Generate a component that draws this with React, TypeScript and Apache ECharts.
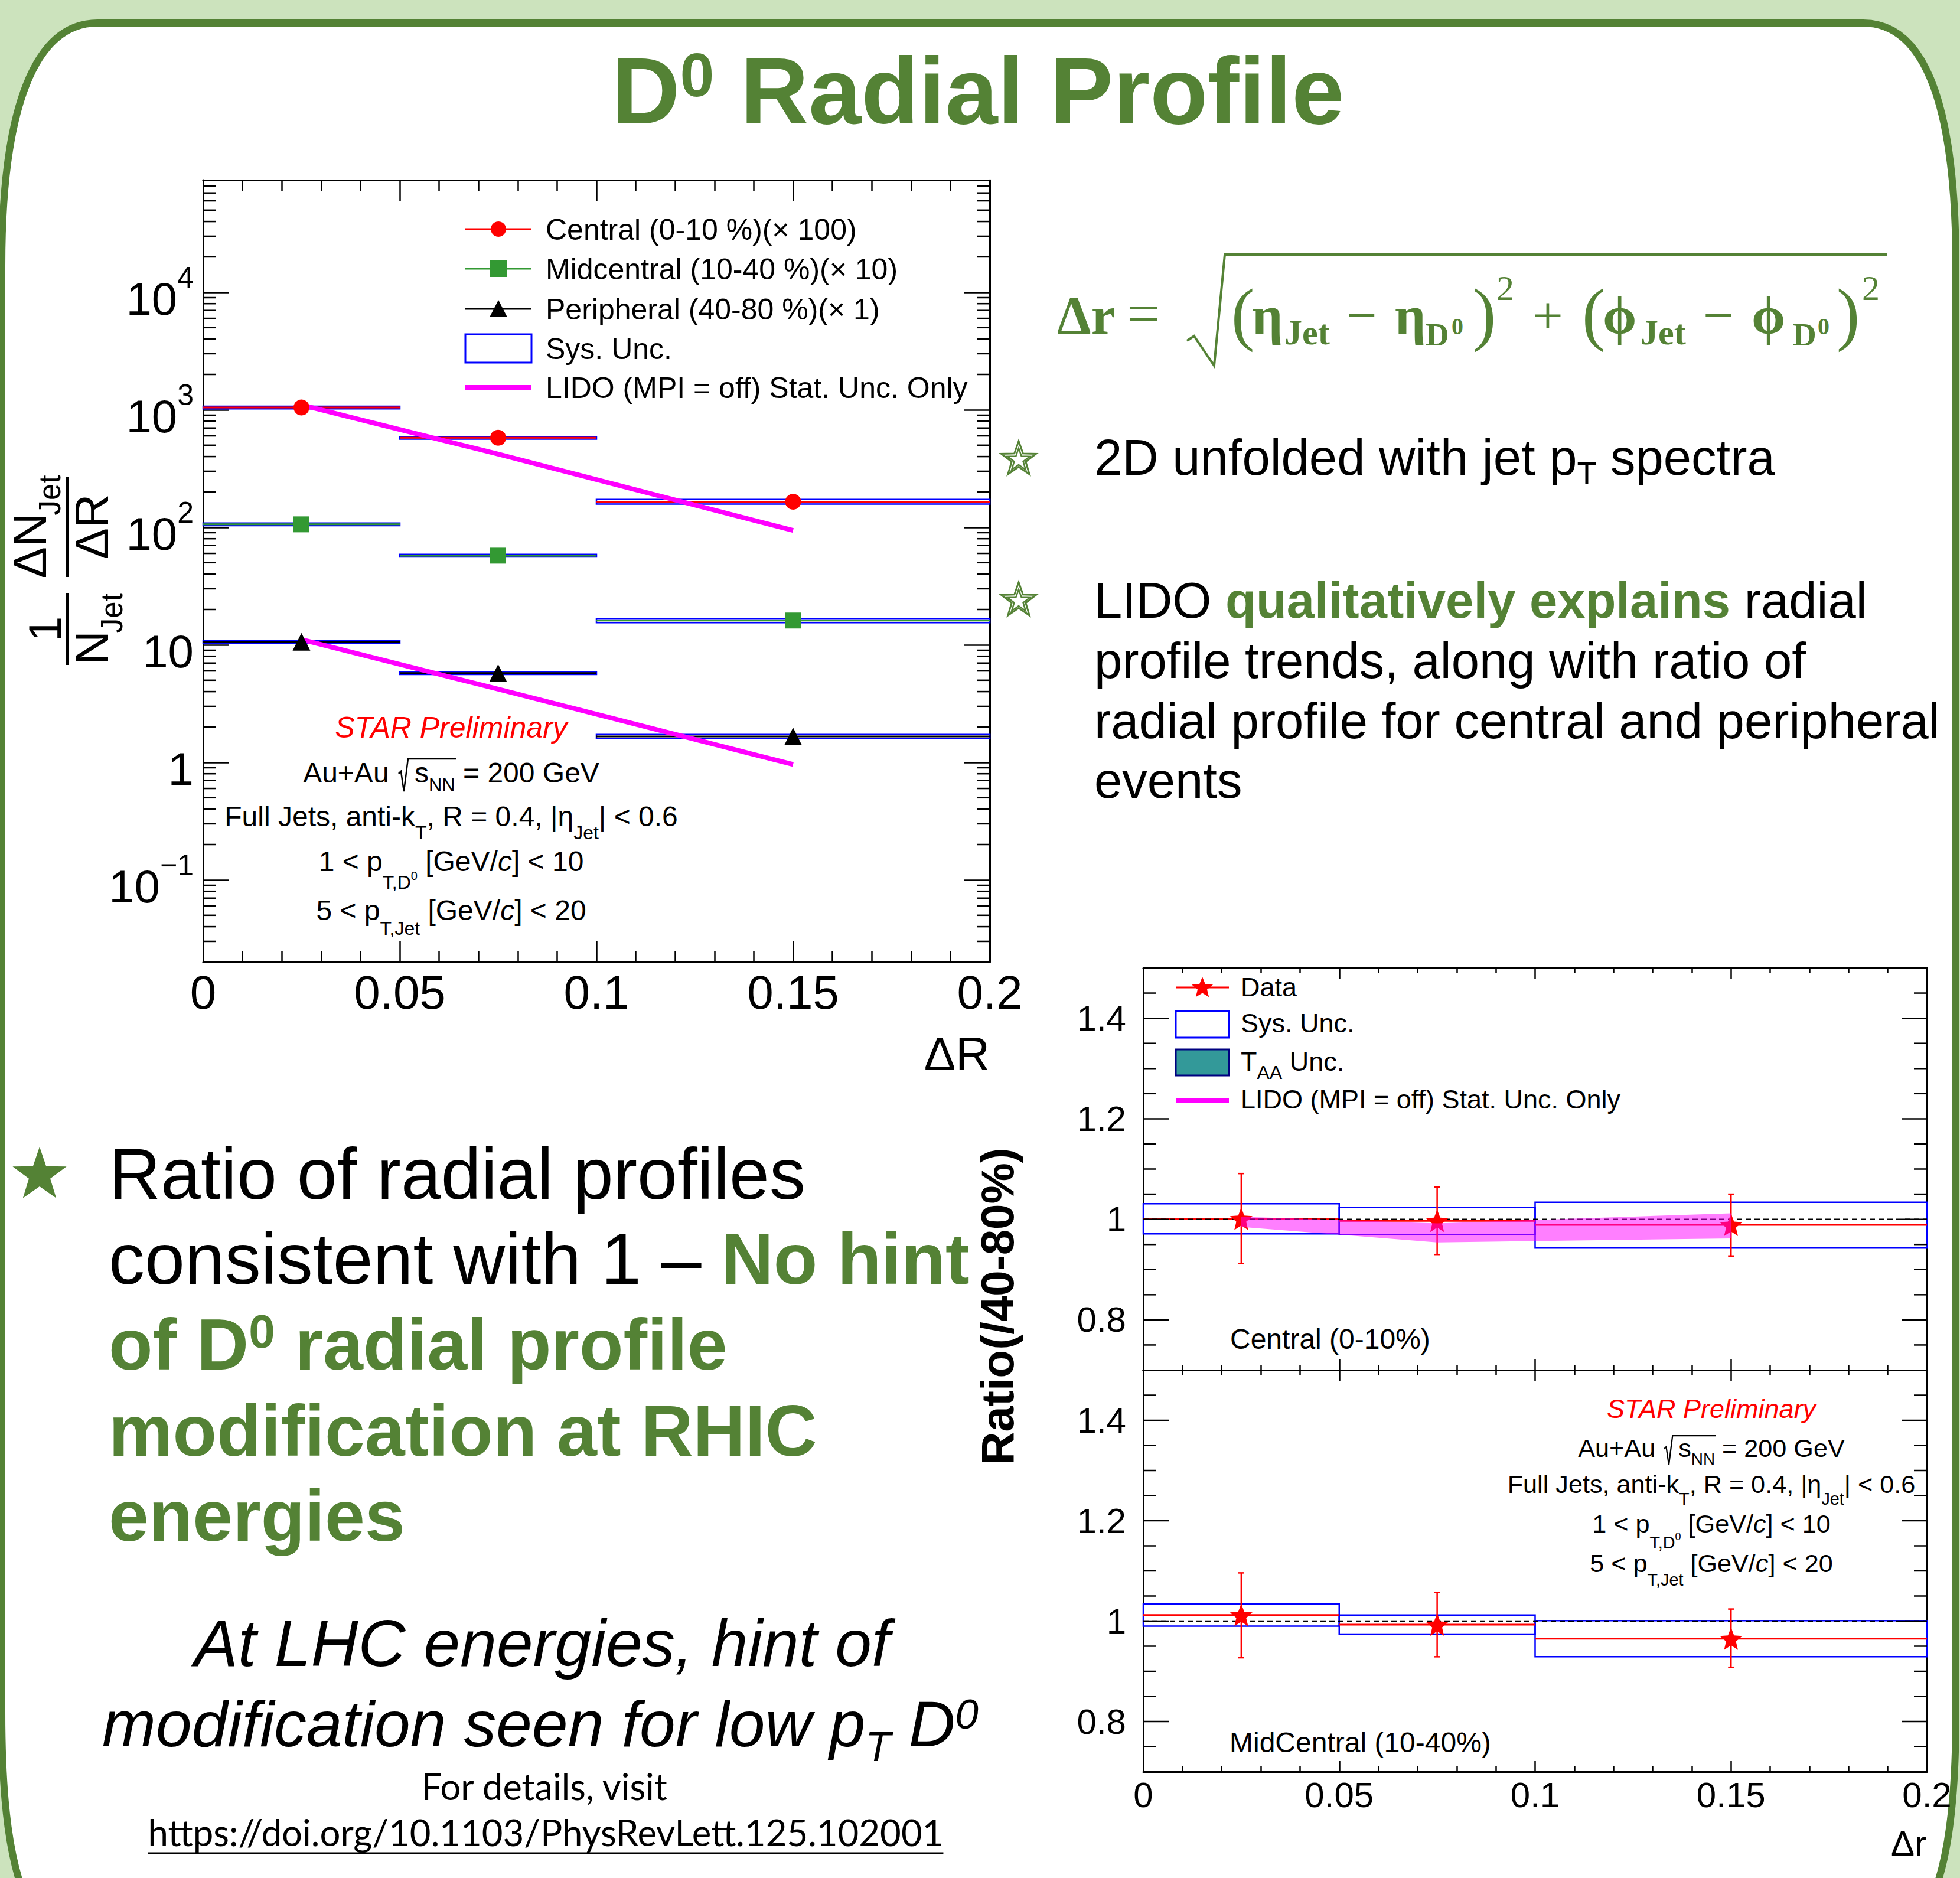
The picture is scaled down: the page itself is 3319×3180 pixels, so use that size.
import React, { useEffect, useRef } from 'react';
import * as echarts from 'echarts';

const W = 3319;
const H = 3180;
const SANS = "'Liberation Sans', Arial, Helvetica, sans-serif";
const SERIF = "'Liberation Serif', 'DejaVu Serif', 'Times New Roman', serif";
const CAL = "Lato, 'Open Sans', sans-serif";
const GREEN = '#548235';
const BG = '#cce3bd';
const RED = '#ff0000';
const BLUE = '#0000ff';
const MAG = '#ff00ff';
const MIDGREEN = '#339933';

// ---------------- data ----------------
const binLo = [0, 0.05, 0.1];
const binHi = [0.05, 0.1, 0.2];
const binCenter = [0.025, 0.075, 0.15];

const centralVals = [1045, 578, 165];
const midVals = [106, 57.4, 16.1];
const periVals = [10.6, 5.75, 1.66];
const centralSys = [0.025, 0.025, 0.045];
const midSys = [0.025, 0.025, 0.04];
const periSys = [0.025, 0.025, 0.04];

const lidoX = [0.025, 0.075, 0.15];
const lidoCentral = [1100, 420, 94];
const lidoPeri = [11.1, 4.2, 0.96];

const ratioCentral = [1.001, 0.997, 0.989];
const ratioCentralStatLo = [0.912, 0.93, 0.927];
const ratioCentralStatHi = [1.091, 1.064, 1.05];
const ratioCentralSysLo = [0.971, 0.97, 0.943];
const ratioCentralSysHi = [1.031, 1.024, 1.034];
const lidoRatioLo = [0.985, 0.954, 0.962];
const lidoRatioHi = [1.005, 0.992, 1.012];

const ratioMid = [1.012, 0.993, 0.965];
const ratioMidStatLo = [0.927, 0.929, 0.908];
const ratioMidStatHi = [1.096, 1.057, 1.024];
const ratioMidSysLo = [0.99, 0.974, 0.929];
const ratioMidSysHi = [1.034, 1.012, 1.001];

const unityLine = [[0, 1], [0.2, 1]];

const xTickLabels = ['0', '0.05', '0.1', '0.15', '0.2'];
const mainYDecades = [-1, 0, 1, 2, 3, 4];
const ratioYLabels = [0.8, 1, 1.2, 1.4];
const ratioMajorTicks = [0.8, 1.0, 1.2, 1.4];
const ratioMinorTicks = [0.75, 0.85, 0.9, 0.95, 1.05, 1.1, 1.15, 1.25, 1.3, 1.35, 1.45];
const logMinorTicks: number[] = [];
for (let k = -2; k <= 4; k++) {
  for (let m = 2; m <= 9; m++) {
    const v = m * Math.pow(10, k);
    if (v > 0.0201 && v < 89000) logMinorTicks.push(v);
  }
}

// ---------------- text helpers ----------------
type P = { t: string; fs: number; dy?: number; it?: boolean; b?: boolean; c?: string; ff?: string; pre?: number; nb?: boolean };

let mctx: CanvasRenderingContext2D | null = null;
function fontOf(p: P) {
  return `${p.it ? 'italic ' : ''}${p.b ? 'bold ' : ''}${p.fs}px ${p.ff || SANS}`;
}
function mw(p: P, t?: string) {
  if (!mctx) mctx = document.createElement('canvas').getContext('2d');
  mctx!.font = fontOf(p);
  return mctx!.measureText(t ?? p.t).width;
}
function cen(ff?: string) {
  if (ff === CAL) return 0.387;
  if (ff === SERIF) return 0.3375;
  return 0.3465;
}
function textEl(x: number, base: number, p: P, color: string, z = 50): any {
  const ff = p.ff || SANS;
  return {
    type: 'text',
    x,
    y: base + (p.dy || 0) - cen(ff) * p.fs,
    z,
    silent: true,
    style: {
      text: p.t,
      fill: p.c || color,
      fontSize: p.fs,
      fontFamily: ff,
      fontWeight: p.b ? 'bold' : 'normal',
      fontStyle: p.it ? 'italic' : 'normal',
      align: 'left',
      verticalAlign: 'middle',
      textAlign: 'left',
      textVerticalAlign: 'middle',
    },
  };
}
function lay(ps: P[], x: number, base: number, align: string, color: string, targetW?: number) {
  let pieces = ps.map((p) => ({ ...p }));
  let ws = pieces.map((p) => mw(p));
  let total = ws.reduce((a, b) => a + b, 0) + pieces.reduce((a, p) => a + (p.pre || 0), 0);
  if (targetW) {
    const k = targetW / total;
    pieces = pieces.map((p) => ({ ...p, fs: p.fs * k, dy: (p.dy || 0) * k, pre: (p.pre || 0) * k }));
    ws = pieces.map((p) => mw(p));
    total = ws.reduce((a, b) => a + b, 0) + pieces.reduce((a, p) => a + (p.pre || 0), 0);
  }
  let cx = align === 'left' ? x : align === 'center' ? x - total / 2 : x - total;
  const x0 = cx;
  const els: any[] = [];
  const xs: number[] = [];
  pieces.forEach((p, i) => {
    cx += p.pre || 0;
    xs.push(cx);
    const lead = p.t.length - p.t.replace(/^\s+/, '').length;
    const leadW = lead ? mw(p, p.t.slice(0, lead)) : 0;
    const tt = p.t.trim();
    if (tt.length) els.push(textEl(cx + leadW, base, { ...p, t: tt }, color));
    cx += ws[i];
  });
  return { els, xs, ws, x0, x1: cx };
}

function starPts(cx: number, cy: number, R: number, r: number) {
  const pts: number[][] = [];
  for (let i = 0; i < 10; i++) {
    const a = -Math.PI / 2 + (i * Math.PI) / 5;
    const rad = i % 2 === 0 ? R : r;
    pts.push([cx + rad * Math.cos(a), cy + rad * Math.sin(a)]);
  }
  return pts;
}
const STAR_PATH = 'path://M' + starPts(0, 0, 10, 4.4).map((p) => p[0].toFixed(3) + ' ' + p[1].toFixed(3)).join(' L') + ' Z';

const PANEL_D =
  'M 3 450 C 3 180 60 39 165 39 L 3155 39 C 3260 39 3312 180 3312 450 L 3312 2900 C 3312 3200 3260 3330 3100 3330 L 215 3330 C 55 3330 3 3200 3 2900 Z';

function annot(G: any[], cx: number, bases: number[], s: number) {
  const f = 48 * s;
  const sf = 32 * s;
  G.push(...lay([{ t: 'STAR Preliminary', fs: 50 * s, it: true }], cx, bases[0], 'center', RED).els);
  const a = lay(
    [
      { t: 'Au+Au ', fs: f },
      { t: 's', fs: f, pre: 30 * s },
      { t: 'NN', fs: 31 * s, dy: 15 * s },
      { t: ' = 200 GeV', fs: f },
    ],
    cx,
    bases[1],
    'center',
    '#000'
  );
  G.push(...a.els);
  const sx = a.xs[1];
  const ex = a.xs[2] + a.ws[2];
  const b = bases[1];
  G.push({
    type: 'polyline',
    z: 50,
    silent: true,
    shape: {
      points: [
        [sx - 27 * s, b - 15 * s],
        [sx - 23 * s, b - 19 * s],
        [sx - 18 * s, b + 15 * s],
        [sx - 11 * s, b - 40 * s],
        [ex + 2 * s, b - 40 * s],
      ],
    },
    style: { stroke: '#000', lineWidth: 2.5 * s, fill: 'none' },
  });
  G.push(
    ...lay(
      [
        { t: 'Full Jets, anti-k', fs: f },
        { t: 'T', fs: sf, dy: 22 * s },
        { t: ', R = 0.4, |\u03B7', fs: f },
        { t: 'Jet', fs: sf, dy: 22 * s },
        { t: '| < 0.6', fs: f },
      ],
      cx,
      bases[2],
      'center',
      '#000'
    ).els
  );
  G.push(
    ...lay(
      [
        { t: '1 < p', fs: f },
        { t: 'T,D', fs: sf, dy: 30 * s },
        { t: '0', fs: 20 * s, dy: 15 * s },
        { t: ' [GeV/', fs: f },
        { t: 'c', fs: f, it: true },
        { t: '] < 10', fs: f },
      ],
      cx,
      bases[3],
      'center',
      '#000'
    ).els
  );
  G.push(
    ...lay(
      [
        { t: '5 < p', fs: f },
        { t: 'T,Jet', fs: sf, dy: 25 * s },
        { t: ' [GeV/', fs: f },
        { t: 'c', fs: f, it: true },
        { t: '] < 20', fs: f },
      ],
      cx,
      bases[4],
      'center',
      '#000'
    ).els
  );
}

function buildGraphic() {
  const G: any[] = [];
  G.push({ type: 'slidePanel', z: -10, silent: true, style: { fill: '#ffffff', stroke: GREEN, lineWidth: 12 } });

  // Title
  G.push(
    ...lay(
      [
        { t: 'D', fs: 160, b: true },
        { t: '0', fs: 104, b: true, dy: -46 },
        { t: ' Radial Profile', fs: 160, b: true },
      ],
      1656,
      209,
      'center',
      GREEN
    ).els
  );

  // Main plot y title (rotated)
  const yt: any[] = [];
  yt.push({ type: 'line', z: 50, shape: { x1: 0, y1: 114, x2: 122, y2: 114 }, style: { stroke: '#000', lineWidth: 4 } });
  yt.push(...lay([{ t: '1', fs: 77 }], 61, 103, 'center', '#000').els);
  yt.push(...lay([{ t: 'N', fs: 80 }, { t: 'Jet', fs: 51, dy: 24, pre: -4 }], 61, 183, 'center', '#000').els);
  yt.push({ type: 'line', z: 50, shape: { x1: 149, y1: 114, x2: 319, y2: 114 }, style: { stroke: '#000', lineWidth: 4 } });
  yt.push(...lay([{ t: '\u0394N', fs: 80 }, { t: 'Jet', fs: 51, dy: 24, pre: -4 }], 234, 78, 'center', '#000').els);
  yt.push(...lay([{ t: '\u0394R', fs: 80 }], 234, 183, 'center', '#000').els);
  G.push({ type: 'group', x: 0, y: 1126, rotation: Math.PI / 2, children: yt });

  // Main x title
  G.push(...lay([{ t: '\u0394R', fs: 80 }], 1676, 1812, 'right', '#000').els);

  // Main legend
  const legY = [388, 455, 523, 590, 656];
  G.push({ type: 'line', z: 50, shape: { x1: 788, y1: legY[0], x2: 900, y2: legY[0] }, style: { stroke: RED, lineWidth: 3 } });
  G.push({ type: 'circle', z: 51, shape: { cx: 844, cy: legY[0], r: 13 }, style: { fill: RED } });
  G.push({ type: 'line', z: 50, shape: { x1: 788, y1: legY[1], x2: 900, y2: legY[1] }, style: { stroke: MIDGREEN, lineWidth: 3 } });
  G.push({ type: 'rect', z: 51, shape: { x: 830, y: legY[1] - 14, width: 28, height: 28 }, style: { fill: MIDGREEN } });
  G.push({ type: 'line', z: 50, shape: { x1: 788, y1: legY[2], x2: 900, y2: legY[2] }, style: { stroke: '#000', lineWidth: 3 } });
  G.push({
    type: 'polygon',
    z: 51,
    shape: { points: [[844, legY[2] - 15], [829, legY[2] + 14], [859, legY[2] + 14]] },
    style: { fill: '#000' },
  });
  G.push({ type: 'rect', z: 50, shape: { x: 788, y: 566, width: 112, height: 48 }, style: { fill: 'none', stroke: BLUE, lineWidth: 3 } });
  G.push({ type: 'line', z: 50, shape: { x1: 788, y1: legY[4], x2: 900, y2: legY[4] }, style: { stroke: MAG, lineWidth: 8 } });
  const legT = [
    'Central (0-10 %)(\u00D7 100)',
    'Midcentral (10-40 %)(\u00D7 10)',
    'Peripheral (40-80 %)(\u00D7 1)',
    'Sys. Unc.',
    'LIDO (MPI = off) Stat. Unc. Only',
  ];
  legT.forEach((t, i) => G.push(...lay([{ t, fs: 50 }], 924, legY[i] + 18, 'left', '#000').els));

  // Main annotation
  annot(G, 764, [1249, 1325, 1399, 1475, 1558], 1);

  // Formula
  const fg = (t: string, x: number, base: number, fs: number, bold = true) =>
    G.push(textEl(x, base, { t, fs, b: bold, ff: SERIF }, GREEN));
  fg('\u0394r', 1790, 565, 92);
  fg('=', 1908, 565, 100, false);
  G.push({
    type: 'polyline',
    z: 50,
    shape: { points: [[2010, 577], [2022, 569], [2056, 619], [2074, 431], [3195, 431]] },
    style: { stroke: GREEN, lineWidth: 4, fill: 'none' },
  });
  fg('(', 2085, 571, 118, false);
  fg('\u03B7', 2120, 565, 92);
  fg('Jet', 2175, 583, 60);
  fg('\u2212', 2280, 565, 92, false);
  fg('\u03B7', 2362, 565, 92);
  fg('D', 2414, 585, 55);
  fg('0', 2458, 566, 40);
  fg(')', 2494, 571, 118, false);
  fg('2', 2534, 508, 60, false);
  fg('+', 2595, 565, 92, false);
  fg('(', 2679, 571, 118, false);
  fg('\u03D5', 2714, 565, 92);
  fg('Jet', 2778, 583, 60);
  fg('\u2212', 2884, 565, 92, false);
  fg('\u03D5', 2966, 565, 92);
  fg('D', 3036, 585, 55);
  fg('0', 3078, 566, 40);
  fg(')', 3110, 571, 118, false);
  fg('2', 3153, 508, 60, false);

  // Right bullets
  [778, 1017].forEach((cy) => {
    G.push({ type: 'polygon', z: 50, shape: { points: starPts(1725, cy, 31, 12.5) }, style: { fill: 'none', stroke: GREEN, lineWidth: 3 } });
    G.push({ type: 'polygon', z: 50, shape: { points: starPts(1725, cy + 1, 20, 8) }, style: { fill: 'none', stroke: GREEN, lineWidth: 2.5 } });
  });
  G.push(
    ...lay(
      [
        { t: '2D unfolded with jet p', fs: 85 },
        { t: 'T', fs: 54, dy: 16 },
        { t: ' spectra', fs: 85 },
      ],
      1853,
      804,
      'left',
      '#000'
    ).els
  );
  G.push(
    ...lay(
      [
        { t: 'LIDO ', fs: 85 },
        { t: 'qualitatively explains', fs: 85, b: true, c: GREEN },
        { t: ' radial', fs: 85 },
      ],
      1853,
      1046,
      'left',
      '#000'
    ).els
  );
  G.push(...lay([{ t: 'profile trends, along with ratio of', fs: 85 }], 1853, 1148, 'left', '#000').els);
  G.push(...lay([{ t: 'radial profile for central and peripheral', fs: 85 }], 1853, 1250, 'left', '#000').els);
  G.push(...lay([{ t: 'events', fs: 85 }], 1853, 1351, 'left', '#000').els);

  // Bottom-left text
  G.push({ type: 'polygon', z: 50, shape: { points: starPts(67, 1990, 48, 19) }, style: { fill: GREEN } });
  G.push(...lay([{ t: 'Ratio of radial profiles', fs: 122 }], 184, 2030, 'left', '#000').els);
  G.push(
    ...lay(
      [
        { t: 'consistent with 1 \u2013 ', fs: 122 },
        { t: 'No hint', fs: 122, b: true, c: GREEN },
      ],
      184,
      2174,
      'left',
      '#000'
    ).els
  );
  G.push(
    ...lay(
      [
        { t: 'of D', fs: 122, b: true },
        { t: '0', fs: 80, b: true, dy: -37 },
        { t: ' radial profile', fs: 122, b: true },
      ],
      184,
      2319,
      'left',
      GREEN
    ).els
  );
  G.push(...lay([{ t: 'modification at RHIC', fs: 122, b: true }], 184, 2465, 'left', GREEN).els);
  G.push(...lay([{ t: 'energies', fs: 122, b: true }], 184, 2609, 'left', GREEN).els);

  G.push(...lay([{ t: 'At LHC energies, hint of', fs: 108, it: true }], 918, 2821, 'center', '#000', 1178).els);
  G.push(
    ...lay(
      [
        { t: 'modification seen for low p', fs: 108, it: true },
        { t: 'T', fs: 70, it: true, dy: 25 },
        { t: ' D', fs: 108, it: true },
        { t: '0', fs: 70, it: true, dy: -30 },
      ],
      915,
      2957,
      'center',
      '#000',
      1484
    ).els
  );
  G.push(...lay([{ t: 'For details, visit', fs: 60, ff: CAL }], 923, 3048, 'center', '#000', 419).els);
  const url = lay([{ t: 'https://doi.org/10.1103/PhysRevLett.125.102001', fs: 60, ff: CAL }], 924, 3126, 'center', '#000', 1347);
  G.push(...url.els);
  G.push({ type: 'line', z: 50, shape: { x1: url.x0, y1: 3138, x2: url.x1, y2: 3138 }, style: { stroke: '#000', lineWidth: 3 } });

  // Ratio y title
  G.push({
    type: 'text',
    x: 1716 - 0.3465 * 78,
    y: 2212,
    rotation: Math.PI / 2,
    z: 50,
    silent: true,
    style: {
      text: 'Ratio(/40-80%)',
      fill: '#000',
      fontSize: 78,
      fontWeight: 'bold',
      fontFamily: SANS,
      align: 'center',
      verticalAlign: 'middle',
      textAlign: 'center',
      textVerticalAlign: 'middle',
    },
  });
  G.push(...lay([{ t: '\u0394r', fs: 60 }], 3262, 3142, 'right', '#000').els);

  // Ratio legend
  const rl = [1672, 1734, 1799, 1863];
  G.push({ type: 'line', z: 50, shape: { x1: 1992, y1: rl[0], x2: 2081, y2: rl[0] }, style: { stroke: RED, lineWidth: 3 } });
  G.push({ type: 'polygon', z: 51, shape: { points: starPts(2036, rl[0] + 1, 19, 8.4) }, style: { fill: RED } });
  G.push({ type: 'rect', z: 50, shape: { x: 1991, y: 1712, width: 90, height: 45 }, style: { fill: 'none', stroke: BLUE, lineWidth: 3 } });
  G.push({ type: 'rect', z: 50, shape: { x: 1991, y: 1777, width: 90, height: 44 }, style: { fill: '#339999', stroke: '#000080', lineWidth: 3 } });
  G.push({ type: 'line', z: 50, shape: { x1: 1992, y1: rl[3], x2: 2081, y2: rl[3] }, style: { stroke: MAG, lineWidth: 8 } });
  G.push(...lay([{ t: 'Data', fs: 45 }], 2101, 1687, 'left', '#000').els);
  G.push(...lay([{ t: 'Sys. Unc.', fs: 45 }], 2101, 1748, 'left', '#000').els);
  G.push(
    ...lay(
      [
        { t: 'T', fs: 45 },
        { t: 'AA', fs: 32, dy: 14 },
        { t: ' Unc.', fs: 45 },
      ],
      2101,
      1813,
      'left',
      '#000'
    ).els
  );
  G.push(...lay([{ t: 'LIDO (MPI = off) Stat. Unc. Only', fs: 45 }], 2101, 1877, 'left', '#000').els);
  G.push(...lay([{ t: 'Central (0-10%)', fs: 48 }], 2083, 2284, 'left', '#000').els);
  G.push(...lay([{ t: 'MidCentral (10-40%)', fs: 48 }], 2082, 2967, 'left', '#000').els);

  annot(G, 2898, [2401, 2467, 2528, 2595, 2662], 0.9);
  return G;
}

// ---------------- axes & series ----------------
function fmtX(v: number) {
  const i = Math.round(v / 0.05);
  return Math.abs(v - i * 0.05) < 1e-6 ? xTickLabels[i] ?? '' : '';
}
function mkX(gridIndex: number, position: string, showLabel: boolean, fs: number, major: number, minor: number, margin: number) {
  return {
    type: 'value',
    gridIndex,
    position,
    min: 0,
    max: 0.2,
    interval: 0.05,
    axisLine: { show: true, onZero: false, lineStyle: { color: '#000', width: 3 } },
    axisTick: { show: true, inside: true, length: major, lineStyle: { color: '#000', width: 2.5 } },
    minorTick: { show: true, splitNumber: 5, length: minor, lineStyle: { color: '#000', width: 2.5 } },
    splitLine: { show: false },
    minorSplitLine: { show: false },
    axisLabel: { show: showLabel, fontSize: fs, fontFamily: SANS, color: '#000', margin, formatter: fmtX },
  };
}
function logLabel(v: number) {
  const e = Math.log10(v);
  const r = Math.round(e);
  if (Math.abs(e - r) > 1e-6 || mainYDecades.indexOf(r) < 0) return '';
  if (r === 0) return '{b|1}';
  if (r === 1) return '{b|10}';
  return `{b|10}{s|${r < 0 ? '\u2212' + -r : r}}`;
}
function mkLogY(position: string, showLabel: boolean) {
  return {
    type: 'log',
    logBase: 10,
    gridIndex: 0,
    position,
    min: 0.02,
    max: 90000,
    axisLine: { show: true, onZero: false, lineStyle: { color: '#000', width: 3 } },
    axisTick: { show: true, inside: true, length: 43, lineStyle: { color: '#000', width: 2.5 } },
    splitLine: { show: false },
    axisLabel: {
      show: showLabel,
      margin: 16,
      color: '#000',
      formatter: logLabel,
      rich: {
        b: { fontSize: 78, fontFamily: SANS, color: '#000', lineHeight: 100, verticalAlign: 'bottom' },
        s: { fontSize: 50, fontFamily: SANS, color: '#000', lineHeight: 50, verticalAlign: 'top' },
      },
    },
  };
}
function ratioLabel(v: number) {
  const l = ratioYLabels.find((x) => Math.abs(x - v) < 1e-6);
  return l === undefined ? '' : String(l);
}
function mkRatioY(gridIndex: number, position: string, showLabel: boolean) {
  return {
    type: 'value',
    gridIndex,
    position,
    min: 0.7,
    max: 1.5,
    interval: 0.1,
    axisLine: { show: true, onZero: false, lineStyle: { color: '#000', width: 3 } },
    axisTick: { show: false },
    splitLine: { show: false },
    axisLabel: { show: showLabel, fontSize: 60, fontFamily: SANS, color: '#000', margin: 29, formatter: ratioLabel },
  };
}

const sysBox = (ai: number, lo: number[], hi: number[], z: number) => ({
  type: 'custom',
  xAxisIndex: ai,
  yAxisIndex: ai,
  z,
  silent: true,
  encode: { x: [0, 1], y: [2, 3] },
  data: binLo.map((l, i) => [l, binHi[i], lo[i], hi[i]]),
  renderItem: (_p: any, api: any) => {
    const a = api.coord([api.value(0), api.value(3)]);
    const b = api.coord([api.value(1), api.value(2)]);
    return {
      type: 'rect',
      shape: { x: a[0], y: a[1], width: b[0] - a[0], height: b[1] - a[1] },
      style: { fill: 'none', stroke: BLUE, lineWidth: 2.5 },
    };
  },
});
const binLine = (ai: number, vals: number[], color: string, z: number) => ({
  type: 'custom',
  xAxisIndex: ai,
  yAxisIndex: ai,
  z,
  silent: true,
  encode: { x: [0, 1], y: 2 },
  data: binLo.map((l, i) => [l, binHi[i], vals[i]]),
  renderItem: (_p: any, api: any) => {
    const a = api.coord([api.value(0), api.value(2)]);
    const b = api.coord([api.value(1), api.value(2)]);
    return { type: 'line', shape: { x1: a[0], y1: a[1], x2: b[0], y2: b[1] }, style: { stroke: color, lineWidth: 3 } };
  },
});
const errBar = (ai: number, lo: number[], hi: number[], z: number) => ({
  type: 'custom',
  xAxisIndex: ai,
  yAxisIndex: ai,
  z,
  silent: true,
  encode: { x: 0, y: [1, 2] },
  data: binCenter.map((x, i) => [x, lo[i], hi[i]]),
  renderItem: (_p: any, api: any) => {
    const a = api.coord([api.value(0), api.value(1)]);
    const b = api.coord([api.value(0), api.value(2)]);
    const st = { stroke: RED, lineWidth: 2.5 };
    return {
      type: 'group',
      children: [
        { type: 'line', shape: { x1: a[0], y1: a[1], x2: b[0], y2: b[1] }, style: st },
        { type: 'line', shape: { x1: a[0] - 5, y1: a[1], x2: a[0] + 5, y2: a[1] }, style: st },
        { type: 'line', shape: { x1: b[0] - 5, y1: b[1], x2: b[0] + 5, y2: b[1] }, style: st },
      ],
    };
  },
});
const markers = (ai: number, vals: number[], symbol: string, size: number, color: string, z: number) => ({
  type: 'scatter',
  xAxisIndex: ai,
  yAxisIndex: ai,
  z,
  silent: true,
  symbol,
  symbolSize: size,
  itemStyle: { color, opacity: 1 },
  data: binCenter.map((x, i) => [x, vals[i]]),
});
const ratioTicks = (ai: number) => ({
  type: 'custom',
  xAxisIndex: ai,
  yAxisIndex: ai,
  z: 9,
  silent: true,
  encode: { x: 0, y: 1 },
  data: [...ratioMajorTicks.map((v) => [0, v, 1]), ...ratioMinorTicks.map((v) => [0, v, 0])],
  renderItem: (_p: any, api: any) => {
    const l = api.coord([0, api.value(1)]);
    const r = api.coord([0.2, api.value(1)]);
    const len = api.value(2) ? 43 : 22;
    const st = { stroke: '#000', lineWidth: 2.5 };
    return {
      type: 'group',
      children: [
        { type: 'line', shape: { x1: l[0], y1: l[1], x2: l[0] + len, y2: l[1] }, style: st },
        { type: 'line', shape: { x1: r[0] - len, y1: r[1], x2: r[0], y2: r[1] }, style: st },
      ],
    };
  },
});

function buildOption() {
  const series: any[] = [
    {
      type: 'custom',
      xAxisIndex: 0,
      yAxisIndex: 0,
      z: 9,
      silent: true,
      encode: { x: 0, y: 1 },
      data: logMinorTicks.map((v) => [0, v]),
      renderItem: (_p: any, api: any) => {
        const l = api.coord([0, api.value(1)]);
        const r = api.coord([0.2, api.value(1)]);
        const st = { stroke: '#000', lineWidth: 2.5 };
        return {
          type: 'group',
          children: [
            { type: 'line', shape: { x1: l[0], y1: l[1], x2: l[0] + 22, y2: l[1] }, style: st },
            { type: 'line', shape: { x1: r[0] - 22, y1: r[1], x2: r[0], y2: r[1] }, style: st },
          ],
        };
      },
    },
    sysBox(0, centralVals.map((v, i) => v * (1 - centralSys[i])), centralVals.map((v, i) => v * (1 + centralSys[i])), 3),
    sysBox(0, midVals.map((v, i) => v * (1 - midSys[i])), midVals.map((v, i) => v * (1 + midSys[i])), 3),
    sysBox(0, periVals.map((v, i) => v * (1 - periSys[i])), periVals.map((v, i) => v * (1 + periSys[i])), 3),
    binLine(0, centralVals, RED, 4),
    binLine(0, midVals, MIDGREEN, 4),
    binLine(0, periVals, '#000', 4),
    {
      type: 'line',
      xAxisIndex: 0,
      yAxisIndex: 0,
      z: 5,
      silent: true,
      symbol: 'none',
      lineStyle: { color: MAG, width: 8 },
      data: lidoX.map((x, i) => [x, lidoCentral[i]]),
    },
    {
      type: 'line',
      xAxisIndex: 0,
      yAxisIndex: 0,
      z: 5,
      silent: true,
      symbol: 'none',
      lineStyle: { color: MAG, width: 8 },
      data: lidoX.map((x, i) => [x, lidoPeri[i]]),
    },
    markers(0, centralVals, 'circle', 27, RED, 6),
    markers(0, midVals, 'rect', 27, MIDGREEN, 6),
    markers(0, periVals, 'triangle', 30, '#000', 6),

    // top ratio (central)
    ratioTicks(2),
    sysBox(2, ratioCentralSysLo, ratioCentralSysHi, 3),
    binLine(2, ratioCentral, RED, 4),
    {
      type: 'line',
      xAxisIndex: 2,
      yAxisIndex: 2,
      z: 5,
      silent: true,
      symbol: 'none',
      lineStyle: { color: '#000', width: 2.5, type: [9, 6] },
      data: unityLine,
    },
    errBar(2, ratioCentralStatLo, ratioCentralStatHi, 6),
    markers(2, ratioCentral, STAR_PATH, 38, RED, 7),
    {
      type: 'custom',
      xAxisIndex: 2,
      yAxisIndex: 2,
      z: 8,
      silent: true,
      encode: { x: 0, y: [1, 2] },
      data: lidoX.map((x, i) => [x, lidoRatioLo[i], lidoRatioHi[i]]),
      renderItem: (params: any, api: any) => {
        if (params.dataIndex !== 0) return null;
        const up = lidoX.map((x, i) => api.coord([x, lidoRatioHi[i]]));
        const dn = lidoX.map((x, i) => api.coord([x, lidoRatioLo[i]])).reverse();
        return { type: 'polygon', shape: { points: [...up, ...dn] }, style: { fill: 'rgba(255,0,255,0.5)' } };
      },
    },

    // bottom ratio (midcentral)
    ratioTicks(4),
    sysBox(4, ratioMidSysLo, ratioMidSysHi, 3),
    binLine(4, ratioMid, RED, 4),
    {
      type: 'line',
      xAxisIndex: 4,
      yAxisIndex: 4,
      z: 5,
      silent: true,
      symbol: 'none',
      lineStyle: { color: '#000', width: 2.5, type: [9, 6] },
      data: unityLine,
    },
    errBar(4, ratioMidStatLo, ratioMidStatHi, 6),
    markers(4, ratioMid, STAR_PATH, 38, RED, 7),
  ];

  return {
    animation: false,
    backgroundColor: BG,
    textStyle: { fontFamily: SANS },
    grid: [
      { left: 344, top: 305, width: 1332, height: 1324, containLabel: false },
      { left: 1936, top: 1639, width: 1327, height: 681, containLabel: false },
      { left: 1936, top: 2320, width: 1327, height: 680, containLabel: false },
    ],
    xAxis: [
      mkX(0, 'bottom', true, 80, 36, 18, 11),
      mkX(0, 'top', false, 80, 36, 18, 11),
      mkX(1, 'bottom', false, 60, 18, 9, 9),
      mkX(1, 'top', false, 60, 18, 9, 9),
      mkX(2, 'bottom', true, 60, 18, 9, 9),
      mkX(2, 'top', false, 60, 18, 9, 9),
    ],
    yAxis: [
      mkLogY('left', true),
      mkLogY('right', false),
      mkRatioY(1, 'left', true),
      mkRatioY(1, 'right', false),
      mkRatioY(2, 'left', true),
      mkRatioY(2, 'right', false),
    ],
    series,
    graphic: { elements: buildGraphic() },
  };
}

let registered = false;

export default function App() {
  const ref = useRef<HTMLDivElement>(null);
  useEffect(() => {
    document.body.style.margin = '0';
    if (!registered) {
      echarts.graphic.registerShape('slidePanel', echarts.graphic.extendPath(PANEL_D, {}) as any);
      registered = true;
    }
    const chart = echarts.init(ref.current!, null, { renderer: 'svg', width: W, height: H });
    chart.setOption(buildOption() as any);
    return () => chart.dispose();
  }, []);
  return <div ref={ref} style={{ width: W, height: H }} />;
}
